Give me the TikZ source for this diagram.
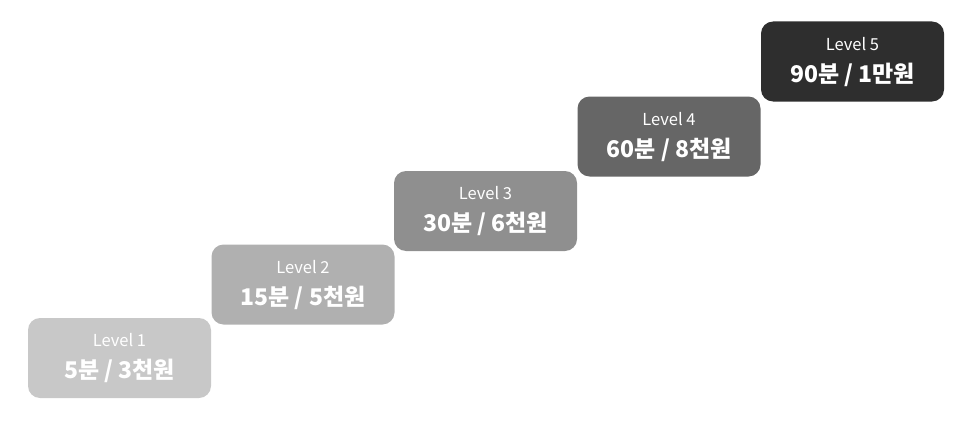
\documentclass[tikz,border=0pt]{standalone}
\usepackage{fontspec}
\setmainfont{Noto Sans CJK KR}
\newfontfamily\krfont{Noto Sans CJK KR}
\definecolor{lvA}{HTML}{C8C8C8}
\definecolor{lvB}{HTML}{B0B0B0}
\definecolor{lvC}{HTML}{8F8F8F}
\definecolor{lvD}{HTML}{666666}
\definecolor{lvE}{HTML}{2E2E2E}
\tikzset{
  lvbox/.style={rounded corners=12pt, minimum width=183pt, minimum height=80pt, inner sep=0pt},
  lvtitle/.style={text=white, font=\krfont\fontsize{16.5}{19}\selectfont},
  lvmain/.style={text=white, font=\krfont\bfseries\fontsize{23}{27}\selectfont}
}
\begin{document}
\begin{tikzpicture}[x=1pt,y=-1pt]
\useasboundingbox (0,0) rectangle (974,428);
\foreach \i/\cx/\cy/\col/\ma/\mb in {1/119.5/358/lvA/5분/3천원, 2/303/284.5/lvB/15분/5천원, 3/485.5/211/lvC/30분/6천원, 4/669/136.5/lvD/60분/8천원, 5/852.5/61.5/lvE/90분/1만원}{
  \node[lvbox, fill=\col] (b\i) at (\cx,\cy) {};
  \node[lvtitle] (t\i) at (\cx,\cy-17.5) {Level \i};
  \node[lvmain] (m\i) at (\cx,\cy+13) {\ma{} / \mb};
}
\end{tikzpicture}
\end{document}
